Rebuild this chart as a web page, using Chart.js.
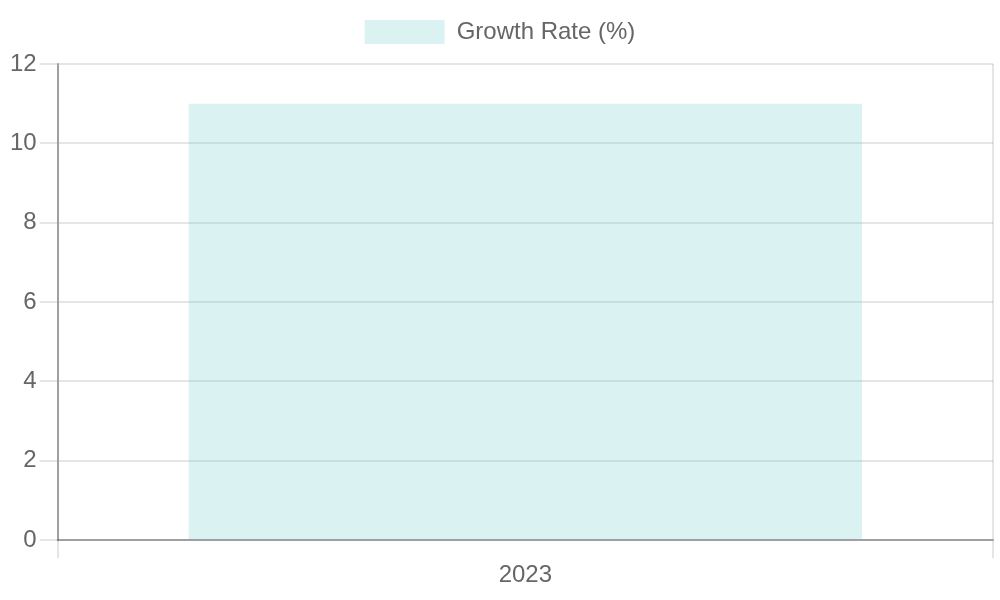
<!DOCTYPE html>
<html lang="en">
<head>
    <meta charset="UTF-8">
    <title>Growth Rate</title>
    <style>
        * { margin: 0; padding: 0; box-sizing: border-box; }
        body { background: #fff; }
        .chart-container { width: 1000px; height: 600px; }
    </style>
</head>
<body>
    <div class="chart-container">
        <canvas id="growthChart"></canvas>
    </div>

    <script src="https://cdn.jsdelivr.net/npm/chart.js"></script>
    <script>
        const years = ['2023'];
        const growthRates = [11];
        const yTicks = { min: 0, max: 12, step: 2 };

        Chart.defaults.font.family = "'Liberation Sans', Arial, sans-serif";
        Chart.defaults.font.size = 24;
        Chart.defaults.color = '#666';

        // adds a little room under the legend
        const legendGap = {
            id: 'legendGap',
            beforeInit(chart) {
                const fit = chart.legend.fit;
                chart.legend.fit = function () {
                    fit.bind(chart.legend)();
                    this.height += 10;
                };
            }
        };

        const ctx = document.getElementById('growthChart').getContext('2d');
        new Chart(ctx, {
            type: 'bar',
            data: {
                labels: years,
                datasets: [{
                    label: 'Growth Rate (%)',
                    data: growthRates,
                    backgroundColor: 'rgba(75, 192, 192, 0.2)',
                    borderWidth: 0
                }]
            },
            options: {
                responsive: true,
                maintainAspectRatio: false,
                animation: false,
                layout: {
                    padding: { top: 0, left: 7, right: 7, bottom: 7 }
                },
                plugins: {
                    legend: {
                        labels: { boxWidth: 80, boxHeight: 24, padding: 20 }
                    }
                },
                scales: {
                    x: {
                        border: { color: 'rgba(0,0,0,0.3)', width: 2 },
                        grid: { color: 'rgba(0,0,0,0.1)', lineWidth: 2, tickLength: 18 },
                        ticks: { padding: 3 }
                    },
                    y: {
                        min: yTicks.min,
                        max: yTicks.max,
                        ticks: { stepSize: yTicks.step, padding: 3 },
                        border: { color: 'rgba(0,0,0,0.3)', width: 2 },
                        grid: { color: 'rgba(0,0,0,0.1)', lineWidth: 2, tickLength: 18 }
                    }
                }
            },
            plugins: [legendGap]
        });
    </script>
</body>
</html>
